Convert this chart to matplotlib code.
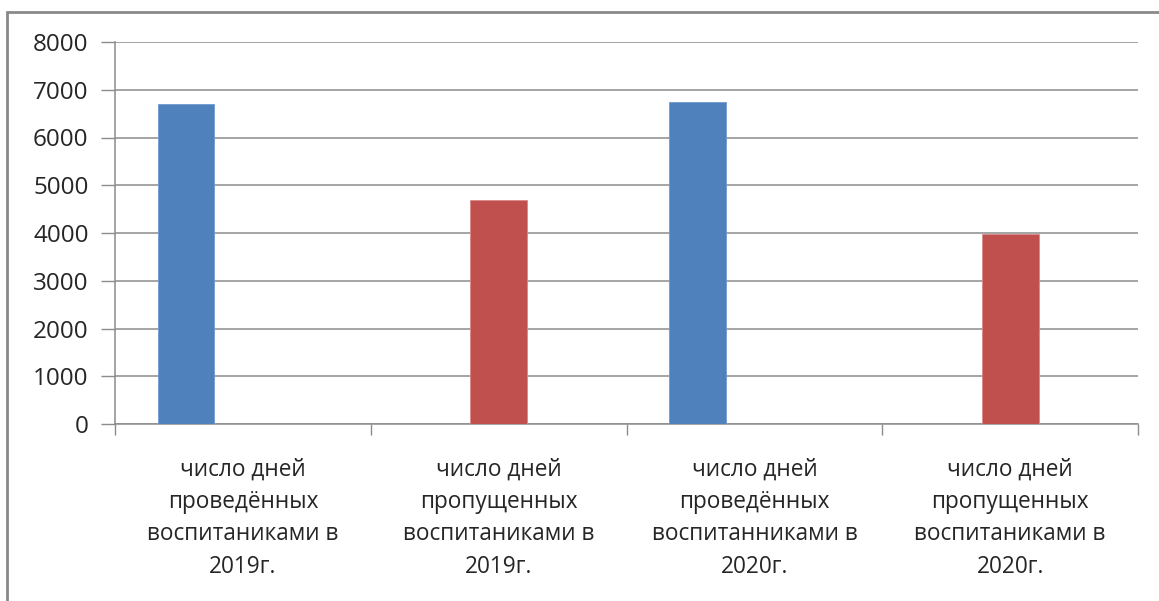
import matplotlib
matplotlib.use('Agg')
import matplotlib.pyplot as plt
import numpy as np
from matplotlib.patches import Rectangle

plt.rcParams['font.family'] = ['Open Sans', 'DejaVu Sans']

categories = [
    'число дней\nпроведённых\nвоспитаниками в\n2019г.',
    'число дней\nпропущенных\nвоспитаниками в\n2019г.',
    'число дней\nпроведённых\nвоспитанниками в\n2020г.',
    'число дней\nпропущенных\nвоспитаниками в\n2020г.',
]
# two series, each filled in only for its own categories
attended = [6710, 0, 6740, 0]
missed = [0, 4700, 0, 3970]
y_ticks = [0, 1000, 2000, 3000, 4000, 5000, 6000, 7000, 8000]

BLUE = '#4F81BD'
RED = '#C0504D'
GRID = '#8C8C8C'
TEXT = '#262626'

fig = plt.figure(figsize=(11.59, 6.01), dpi=100)
ax = fig.add_axes([115 / 1159, 1 - 424 / 601, 1023 / 1159, 382 / 601])

# excel-like layout: 3 slots per category, gap width 150%
w = 1 / 4.5
x = np.arange(len(categories))
ax.bar(x - w, attended, width=w, color=BLUE, edgecolor='#6F9BD0', linewidth=0.6, zorder=3)
ax.bar(x, missed, width=w, color=RED, edgecolor='#D98A88', linewidth=0.6, zorder=3)

ax.set_xlim(-0.5, len(categories) - 0.5)
ax.set_ylim(0, 8000)
ax.set_yticks(y_ticks)
ax.set_yticklabels([str(v) for v in y_ticks], fontsize=17.5, color=TEXT)
ax.yaxis.grid(True, color=GRID, linewidth=1.1, zorder=0)
ax.tick_params(axis='y', length=10, width=1, color=GRID, pad=9)

ax.set_xticks(x)
ax.set_xticklabels(categories, fontsize=16.3, color=TEXT, linespacing=1.47)
ax.set_xticks(np.arange(-0.5, len(categories)), minor=True)
ax.tick_params(axis='x', which='major', length=0, pad=24)
ax.tick_params(axis='x', which='minor', length=8, width=1, color=GRID)

for s in ['top', 'right']:
    ax.spines[s].set_visible(False)
for s in ['left', 'bottom']:
    ax.spines[s].set_color(GRID)
    ax.spines[s].set_linewidth(1.1)

# outer chart frame (cropped on the right and bottom)
fig.patches.append(Rectangle((7 / 1159, -0.1), 1.2, 1 - 12 / 601 + 0.1,
                             transform=fig.transFigure, fill=False,
                             edgecolor='#8A8A8A', linewidth=2))

fig.savefig('out.png', dpi=100)
